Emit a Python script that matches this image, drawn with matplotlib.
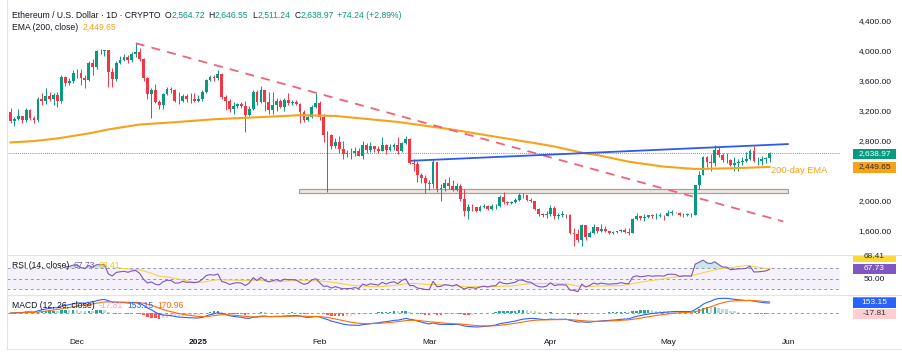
import matplotlib
matplotlib.use('Agg')
import matplotlib.pyplot as plt
import matplotlib.dates as mdates
from matplotlib.patches import Rectangle
from matplotlib.lines import Line2D
import numpy as np
import pandas as pd

plt.rcParams['font.family'] = ['Liberation Sans', 'DejaVu Sans']

W, H = 903, 354

# ---- daily ETH/USD candles, 2024-11-14 .. 2025-05-27 ----
first_open = 3187.0

close_nov = [3060, 3090, 3130, 3075, 3210, 3105, 3070, 3355, 3330, 3395, 3360, 3415, 3325, 3655, 3575, 3590, 3705]
high_nov = [3240, 3120, 3220, 3130, 3230, 3220, 3130, 3380, 3440, 3500, 3450, 3430, 3450, 3680, 3660, 3630, 3745]
low_nov = [3030, 3000, 3070, 3040, 3050, 3080, 3040, 3050, 3280, 3290, 3330, 3280, 3250, 3300, 3530, 3540, 3570]

close_dec = [3705, 3640, 3615, 3835, 3785, 3995, 4000, 4005, 3710, 3625, 3835, 3880, 3910, 3875, 3960, 3985,
             3890, 3630, 3420, 3470, 3320, 3275, 3420, 3490, 3480, 3335, 3330, 3400, 3350, 3355, 3335]
high_dec = [3760, 3760, 3670, 3860, 3890, 4010, 4020, 4010, 4010, 3770, 3860, 3930, 3950, 3940, 3980, 4107,
            4030, 3900, 3650, 3500, 3560, 3340, 3440, 3520, 3520, 3490, 3450, 3420, 3420, 3430, 3440]
low_dec = [3640, 3540, 3500, 3600, 3680, 3760, 3960, 3930, 3520, 3510, 3600, 3820, 3860, 3840, 3850, 3910,
           3860, 3600, 3350, 3100, 3300, 3220, 3220, 3410, 3440, 3310, 3290, 3320, 3310, 3300, 3310]

close_jan = [3355, 3450, 3610, 3655, 3635, 3690, 3380, 3330, 3220, 3265, 3285, 3265, 3140, 3225, 3450, 3310,
             3475, 3310, 3215, 3280, 3325, 3245, 3340, 3305, 3315, 3290, 3180, 3080, 3115, 3245, 3300]
high_jan = [3410, 3480, 3620, 3670, 3670, 3745, 3700, 3410, 3350, 3320, 3300, 3320, 3330, 3260, 3470, 3470,
            3525, 3480, 3450, 3450, 3365, 3350, 3370, 3430, 3340, 3340, 3300, 3210, 3160, 3270, 3440]
low_jan = [3310, 3330, 3440, 3590, 3600, 3610, 3360, 3210, 3180, 3160, 3240, 3230, 2920, 3130, 3210, 3280,
           3300, 3200, 3150, 3150, 3200, 3230, 3200, 3270, 3280, 3270, 3030, 3050, 3060, 3100, 3230]

close_feb = [3110, 2870, 2880, 2730, 2785, 2690, 2625, 2630, 2630, 2660, 2600, 2740, 2675, 2725, 2690, 2660,
             2745, 2670, 2720, 2740, 2660, 2765, 2820, 2500, 2495, 2340, 2300, 2240]
high_feb = [3330, 3160, 2930, 2890, 2830, 2860, 2800, 2680, 2700, 2710, 2700, 2800, 2770, 2780, 2720, 2730,
            2850, 2760, 2750, 2770, 2850, 2780, 2860, 2830, 2550, 2530, 2370, 2340]
low_feb = [3080, 2780, 2120, 2690, 2700, 2640, 2560, 2580, 2560, 2590, 2590, 2560, 2630, 2650, 2650, 2640,
           2660, 2620, 2660, 2680, 2620, 2650, 2760, 2490, 2400, 2250, 2240, 2100]

close_mar = [2220, 2515, 2150, 2170, 2240, 2200, 2140, 2200, 2020, 1865, 1920, 1910, 1865, 1910, 1935, 1890,
             1925, 1930, 2055, 1980, 1965, 1985, 2010, 2080, 2070, 2010, 2000, 1895, 1825, 1805, 1825]
high_mar = [2270, 2550, 2520, 2220, 2290, 2320, 2280, 2230, 2220, 2150, 1960, 1960, 1920, 1940, 1950, 1940,
            1950, 1960, 2070, 2110, 1990, 2000, 2030, 2100, 2100, 2070, 2040, 2000, 1900, 1840, 1860]
low_mar = [2140, 2170, 2110, 2000, 2130, 2160, 2130, 2130, 1990, 1790, 1760, 1860, 1850, 1860, 1900, 1870,
           1880, 1890, 1920, 1960, 1940, 1960, 1970, 2000, 2030, 2000, 1980, 1880, 1800, 1780, 1770]

close_apr = [1905, 1795, 1815, 1815, 1805, 1575, 1555, 1475, 1670, 1520, 1565, 1645, 1590, 1625, 1590, 1575,
             1585, 1590, 1615, 1585, 1575, 1755, 1795, 1770, 1785, 1805, 1790, 1800, 1800, 1795]
high_apr = [1940, 1925, 1830, 1860, 1820, 1820, 1640, 1620, 1690, 1680, 1590, 1690, 1650, 1690, 1660, 1600,
            1600, 1600, 1620, 1640, 1640, 1770, 1830, 1800, 1820, 1810, 1820, 1840, 1830, 1810]
low_apr = [1800, 1760, 1760, 1780, 1770, 1550, 1390, 1450, 1400, 1480, 1510, 1560, 1570, 1580, 1580, 1550,
           1560, 1575, 1580, 1570, 1540, 1570, 1740, 1740, 1730, 1770, 1770, 1760, 1780, 1740]

close_may = [1840, 1840, 1835, 1805, 1815, 1815, 1810, 2205, 2345, 2580, 2515, 2500, 2680, 2610, 2545, 2545,
             2475, 2500, 2520, 2525, 2550, 2665, 2525, 2530, 2550, 2564.72, 2638.97]
high_may = [1870, 1870, 1850, 1850, 1830, 1830, 1830, 2210, 2400, 2600, 2600, 2620, 2737, 2710, 2630, 2640,
            2560, 2580, 2550, 2580, 2650, 2690, 2735, 2580, 2600, 2580, 2646.55]
low_may = [1790, 1810, 1830, 1800, 1780, 1790, 1780, 1810, 2150, 2340, 2450, 2400, 2460, 2580, 2520, 2500,
           2460, 2390, 2400, 2470, 2520, 2540, 2510, 2480, 2470, 2500, 2511.24]

# 200-day EMA, read at points along the orange line
ema_dates = ['2024-11-14', '2024-11-20', '2024-11-26', '2024-12-04', '2024-12-09', '2024-12-17', '2024-12-25',
             '2025-01-05', '2025-01-18', '2025-01-27', '2025-02-05', '2025-02-21', '2025-03-06', '2025-03-19',
             '2025-04-01', '2025-04-10', '2025-04-13', '2025-04-21', '2025-04-30', '2025-05-08', '2025-05-17',
             '2025-05-27']
ema_values = [2777, 2795, 2830, 2897, 2950, 3016, 3043, 3086, 3117, 3140, 3130, 3050, 2956, 2844,
              2733, 2630, 2609, 2520, 2454, 2423, 2432, 2449.65]

# drawn levels
falling_line = (('2024-12-16', 4100), ('2025-05-30T12:00', 1723))
rising_line = (('2025-02-24T14:00', 2533), ('2025-05-31T16:00', 2755))
support_zone = ('2025-01-26T20:00', '2025-05-31T16:00', 2107, 2153)

price_ticks = [1600, 2000, 2800, 3200, 3600, 4000, 4400]
month_ticks = ['2024-12-01', '2025-01-01', '2025-02-01', '2025-03-01', '2025-04-01', '2025-05-01', '2025-06-01']
month_labels = ['Dec', '2025', 'Feb', 'Mar', 'Apr', 'May', 'Jun']


def dnum(s):
    return mdates.date2num(pd.Timestamp(s))


# ---- assemble ----
closes = np.array(close_nov + close_dec + close_jan + close_feb + close_mar + close_apr + close_may, float)
highs = np.array(high_nov + high_dec + high_jan + high_feb + high_mar + high_apr + high_may, float)
lows = np.array(low_nov + low_dec + low_jan + low_feb + low_mar + low_apr + low_may, float)
opens = np.concatenate([[first_open], closes[:-1]])
highs = np.maximum(highs, np.maximum(opens, closes))
lows = np.minimum(lows, np.minimum(opens, closes))
dates = pd.date_range('2024-11-14', periods=len(closes), freq='D')
x = mdates.date2num(dates)

cs = pd.Series(closes)
delta = cs.diff()
gain = delta.clip(lower=0).ewm(alpha=1 / 14, adjust=False, min_periods=14).mean()
loss = (-delta.clip(upper=0)).ewm(alpha=1 / 14, adjust=False, min_periods=14).mean()
rsi = 100 - 100 / (1 + gain / loss)
rsi_ma = rsi.rolling(14).mean()
macd = cs.ewm(span=12, adjust=False).mean() - cs.ewm(span=26, adjust=False).mean()
signal = macd.ewm(span=9, adjust=False).mean()
hist = macd - signal

UP, DOWN = '#089981', '#f23645'
TXT = '#131722'

fig = plt.figure(figsize=(W / 100, H / 100), dpi=100)
fig.patch.set_facecolor('white')


def px_axes(x0, y0, x1, y1):
    return fig.add_axes([x0 / W, 1 - y1 / H, (x1 - x0) / W, (y1 - y0) / H])


d0 = dnum('2024-12-01')
xlim = (d0 - 17.9, d0 + 195.0)

ax = px_axes(7, 0, 840, 255)
ax_rsi = px_axes(7, 255, 840, 295)
ax_macd = px_axes(7, 295, 840, 337)
for a in (ax, ax_rsi, ax_macd):
    a.set_xlim(*xlim)
    for s in a.spines.values():
        s.set_visible(False)
    a.tick_params(length=0, labelsize=6, colors=TXT)
    a.set_xticks([])
    a.set_facecolor('none')

# main price pane
ax.set_ylim(1276, 4676)
cols = np.where(closes >= opens, UP, DOWN)
ax.vlines(x, lows, highs, colors=cols, lw=0.7, zorder=3)
ax.bar(x, np.maximum(np.abs(closes - opens), 4), bottom=np.minimum(opens, closes), width=0.72,
       color=cols, linewidth=0, zorder=4)
ax.plot([dnum(d) for d in ema_dates], ema_values, color='#f7a21b', lw=1.5, zorder=5)

(fa, fpa), (fb, fpb) = falling_line
ax.plot([dnum(fa), dnum(fb)], [fpa, fpb], color='#f0627a', lw=1.3, ls=(0, (5, 4)), zorder=5)
(ra, rpa), (rb, rpb) = rising_line
ax.plot([dnum(ra), dnum(rb)], [rpa, rpb], color='#2e5be8', lw=1.3, zorder=5)
za, zb, zlo, zhi = support_zone
ax.add_patch(Rectangle((dnum(za), zlo), dnum(zb) - dnum(za), zhi - zlo, facecolor='#efe9e3',
                       edgecolor='#a8a097', lw=0.9, zorder=2))
ax.axhline(closes[-1], color=UP, lw=0.6, ls=(0, (1, 1.5)), zorder=1)
ax.text(dnum('2025-05-27T06:00'), 2409, '200-day EMA', color='#f7a21b',
        fontsize=6.7, ha='left', va='center', zorder=6)

ax.yaxis.tick_right()
ax.set_yticks(price_ticks)
ax.set_yticklabels([f'{v:,.2f}' for v in price_ticks])
ax.tick_params(axis='y', pad=13.5)

# RSI pane
ax_rsi.set_ylim(18.4, 95.7)
ax_rsi.axhspan(30, 70, color='#7e57c2', alpha=0.08, lw=0)
for lvl in (70, 50, 30):
    ax_rsi.axhline(lvl, color='#9598a1', lw=0.7, ls=(0, (3, 3)))
ax_rsi.fill_between(x, 70, rsi, where=rsi > 70, color='#26a69a', alpha=0.25, lw=0, interpolate=True)
ax_rsi.fill_between(x, 30, rsi, where=rsi < 30, color='#ef5350', alpha=0.25, lw=0, interpolate=True)
ax_rsi.plot(x, rsi_ma, color='#f5d34c', lw=0.8)
ax_rsi.plot(x, rsi, color='#7e57c2', lw=0.8)
ax_rsi.yaxis.tick_right()
ax_rsi.set_yticks([50])
ax_rsi.set_yticklabels(['50.00'])
ax_rsi.tick_params(axis='y', pad=17)

# MACD pane
ax_macd.set_ylim(-367, 275)
ax_macd.axhline(0, color='#9598a1', lw=0.7, ls=(0, (3, 3)))
prev = hist.shift(1).fillna(0)
hcol = np.where(hist >= 0, np.where(hist >= prev, '#26a69a', '#b2dfdb'),
                np.where(hist < prev, '#ff5252', '#ffcdd2'))
ax_macd.bar(x, hist, width=0.62, color=hcol, linewidth=0)
ax_macd.plot(x, macd, color='#2962ff', lw=0.8)
ax_macd.plot(x, signal, color='#ff6d00', lw=0.8)
ax_macd.set_yticks([])
ax_macd.set_xticks([dnum(d) for d in month_ticks])
ax_macd.set_xticklabels(month_labels)
ax_macd.tick_params(axis='x', pad=1.5, labelsize=6)
ax_macd.get_xticklabels()[1].set_fontweight('bold')

# overlay in pixel coordinates: frame, legends, price tags
ov = fig.add_axes([0, 0, 1, 1], zorder=10)
ov.set_xlim(0, W)
ov.set_ylim(H, 0)
ov.axis('off')
for yy in (255, 295):
    ov.add_line(Line2D([7, W], [yy, yy], color='#e0e3eb', lw=0.8))
ov.add_line(Line2D([7, 7], [0, 349], color='#e0e3eb', lw=0.8))
ov.add_line(Line2D([7, W], [349, 349], color='#e0e3eb', lw=0.8))

renderer = fig.canvas.get_renderer()


def chain(x0, y0, parts, size=6.2):
    xx = x0
    for s, c, gap in parts:
        t = ov.text(xx, y0, s, color=c, fontsize=size, ha='left', va='center')
        xx += t.get_window_extent(renderer).width + gap


chain(12, 15, [('Ethereum / U.S. Dollar · 1D · CRYPTO', TXT, 4), ('O', TXT, 0), ('2,564.72', UP, 4),
               ('H', TXT, 0), ('2,646.55', UP, 4), ('L', TXT, 0), ('2,511.24', UP, 4),
               ('C', TXT, 0), ('2,638.97', UP, 3), ('+74.24 (+2.89%)', UP, 0)])
chain(12, 27, [('EMA (200, close)', TXT, 4), ('2,449.65', '#f7a21b', 0)])
chain(12, 266, [('RSI (14, close)', TXT, 4), ('67.73', '#7e57c2', 4), ('68.41', '#f5c518', 0)])
chain(12, 306, [('MACD (12, 26, close)', TXT, 4), ('-17.81', '#f8a5ae', 4), ('153.15', '#2962ff', 4),
                ('170.96', '#ff6d00', 0)])


def tag(y_top, y_bot, text, bg, fg, clip=None):
    r = Rectangle((853, y_top), 43, y_bot - y_top, facecolor=bg, edgecolor='none')
    ov.add_patch(r)
    t = ov.text(874.5, (y_top + y_bot) / 2, text, color=fg, fontsize=6, ha='center', va='center')
    if clip is not None:
        cp = Rectangle((0, clip), W, H, transform=ov.transData, facecolor='none', edgecolor='none')
        r.set_clip_path(cp)
        t.set_clip_path(cp)


tag(148.5, 158.5, '2,638.97', UP, 'white')
tag(161.5, 172.5, '2,449.65', '#f7a21b', '#2b2b2b')
tag(252, 262, '68.41', '#fdd835', '#2b2b2b', clip=255.6)
tag(263.5, 274, '67.73', '#7e57c2', 'white')
tag(297, 306, '', '#ff6d00', 'white')
tag(298.3, 307.7, '153.15', '#2962ff', 'white')
tag(309, 318.7, '-17.81', '#ffcdd2', '#333333')

fig.savefig('out.png', dpi=100)
